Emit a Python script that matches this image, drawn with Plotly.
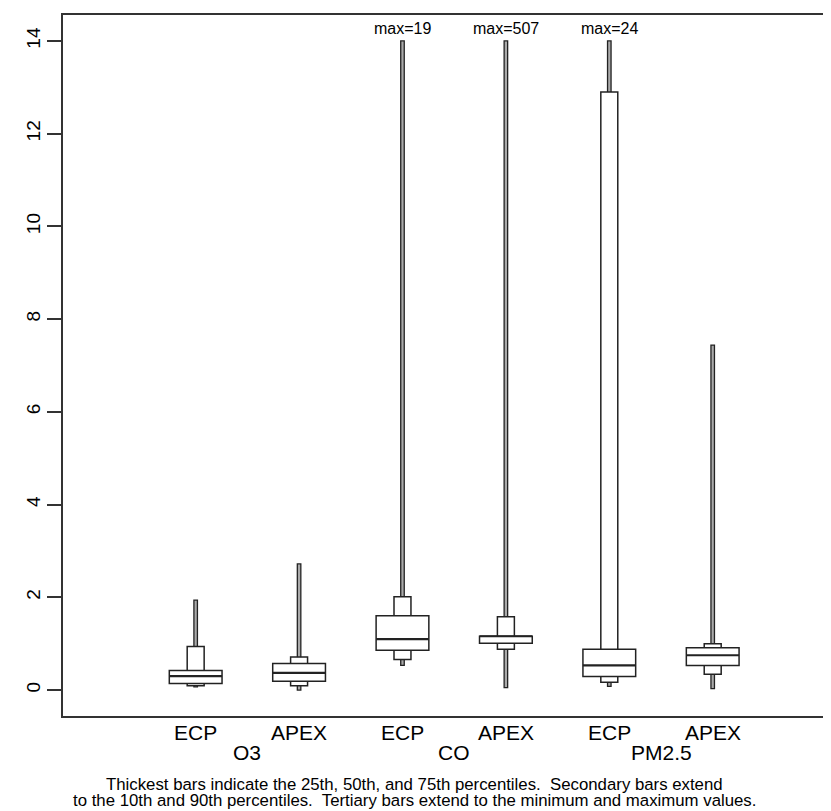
import plotly.graph_objects as go

# ---- data ----
groups = ["O3", "CO", "PM2.5"]
sources = ["ECP", "APEX", "ECP", "APEX", "ECP", "APEX"]
p_min = [0.07, 0.00, 0.53, 0.05, 0.08, 0.03]
p10 = [0.09, 0.09, 0.66, 0.88, 0.17, 0.34]
p25 = [0.14, 0.19, 0.86, 1.01, 0.29, 0.53]
p50 = [0.30, 0.37, 1.10, 1.16, 0.53, 0.75]
p75 = [0.42, 0.57, 1.60, 1.16, 0.88, 0.91]
p90 = [0.94, 0.71, 2.01, 1.58, 12.90, 1.00]
p_max = [1.94, 2.72, 19, 507, 24, 7.44]
y_cap = 14
y_ticks = [0, 2, 4, 6, 8, 10, 12, 14]
footnote_lines = [
    "Thickest bars indicate the 25th, 50th, and 75th percentiles.  Secondary bars extend",
    "to the 10th and 90th percentiles.  Tertiary bars extend to the minimum and maximum values.",
]

# ---- styling ----
FONT = "Liberation Sans, Arial, sans-serif"
INK = "#222222"
W_MAIN, W_SEC, W_TER = 0.255, 0.082, 0.017

fig = go.Figure()
# invisible trace to establish axes
fig.add_trace(go.Scatter(x=[1, 6], y=[0, 0], mode="markers",
                         marker=dict(opacity=0), hoverinfo="skip", showlegend=False))

shapes = []
annotations = []
positions = list(range(1, len(sources) + 1))
for i, pos in enumerate(positions):
    top = min(p_max[i], y_cap)
    shapes.append(dict(type="rect", xref="x", yref="y",
                       x0=pos - W_TER, x1=pos + W_TER, y0=p_min[i], y1=top,
                       fillcolor="#aaaaaa", line=dict(color=INK, width=1.3)))
    shapes.append(dict(type="rect", xref="x", yref="y",
                       x0=pos - W_SEC, x1=pos + W_SEC, y0=p10[i], y1=p90[i],
                       fillcolor="white", line=dict(color=INK, width=1.5)))
    shapes.append(dict(type="rect", xref="x", yref="y",
                       x0=pos - W_MAIN, x1=pos + W_MAIN, y0=p25[i], y1=p75[i],
                       fillcolor="white", line=dict(color=INK, width=1.5)))
    shapes.append(dict(type="line", xref="x", yref="y",
                       x0=pos - W_MAIN, x1=pos + W_MAIN, y0=p50[i], y1=p50[i],
                       line=dict(color=INK, width=2.2)))
    if p_max[i] > y_cap:
        annotations.append(dict(x=pos, y=y_cap, xref="x", yref="y", text=f"max={p_max[i]:g}",
                                showarrow=False, yanchor="bottom", yshift=2,
                                font=dict(family=FONT, size=16, color="black")))
    annotations.append(dict(x=pos, y=0, xref="x", yref="paper", text=sources[i],
                            showarrow=False, yanchor="top", yshift=-3,
                            font=dict(family=FONT, size=21, color="black")))

for g, name in enumerate(groups):
    xmid = (positions[2 * g] + positions[2 * g + 1]) / 2
    annotations.append(dict(x=xmid, y=0, xref="x", yref="paper", text=name,
                            showarrow=False, yanchor="top", yshift=-23,
                            font=dict(family=FONT, size=21, color="black")))

for k, line in enumerate(footnote_lines):
    annotations.append(dict(x=0.458, y=0, xref="paper", yref="paper", text=line,
                            showarrow=False, yanchor="middle", yshift=-68 - 16 * k,
                            font=dict(family=FONT, size=16.8, color="black")))

fig.update_layout(
    width=823, height=803,
    margin=dict(l=55, r=0, t=7, b=95),
    paper_bgcolor="white", plot_bgcolor="white",
    shapes=shapes, annotations=annotations, showlegend=False,
    xaxis=dict(range=[-0.283, 7.144], showgrid=False, zeroline=False,
               showticklabels=False, ticks="", showline=True, mirror=True,
               linecolor="#333333", linewidth=1.5),
    yaxis=dict(range=[-0.56, 14.56], showgrid=False, zeroline=False,
               tickvals=y_ticks, ticktext=[str(v) for v in y_ticks],
               ticks="outside", ticklen=14, tickwidth=1.5, tickcolor="#333333",
               tickangle=-90, tickfont=dict(family=FONT, size=19, color="black"),
               showline=True, mirror=False, linecolor="#333333", linewidth=1.5),
)

fig.write_html("out.html")
